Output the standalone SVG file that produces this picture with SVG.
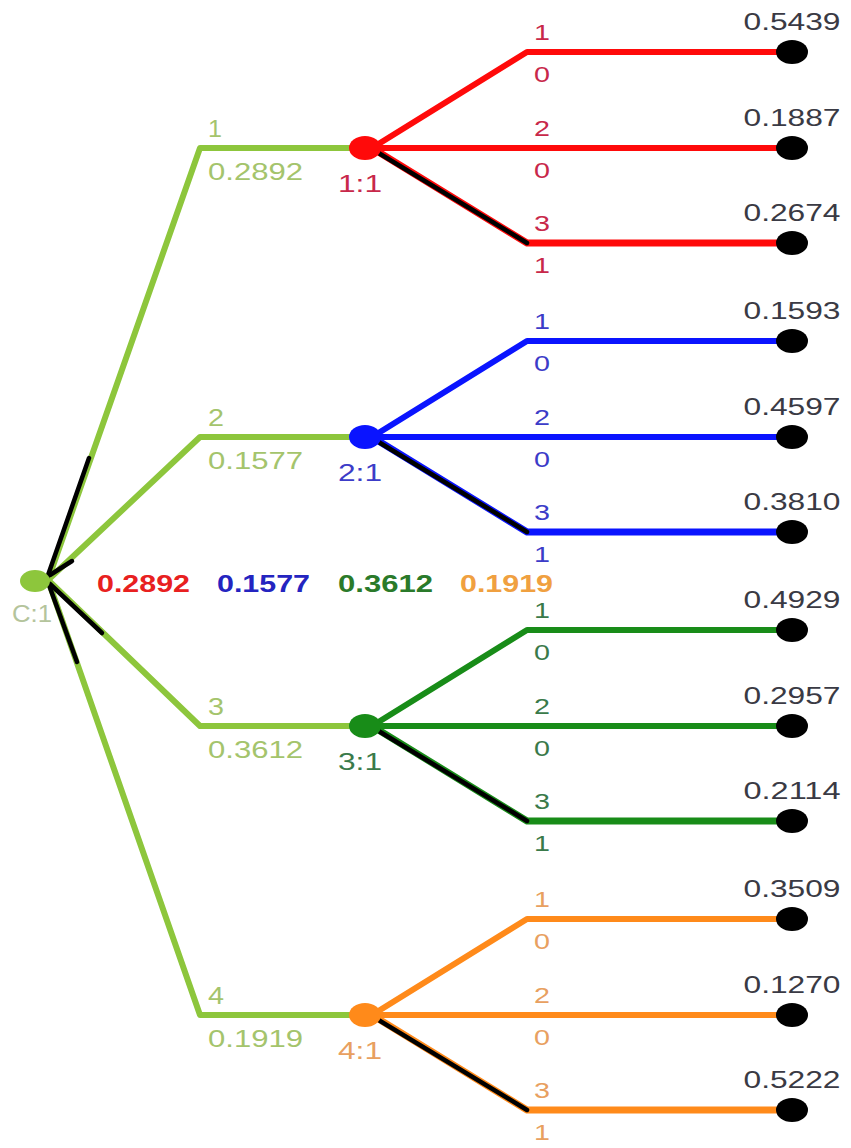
<svg xmlns="http://www.w3.org/2000/svg" width="851" height="1148" viewBox="0 0 851 1148">
<style>
text{font-family:"Liberation Sans",Arial,sans-serif;}
.lbl{font-size:23px;}
.sm{font-size:22px;text-anchor:middle;}
.val{font-size:23px;text-anchor:middle;fill:#3a3a44;}
.nl{font-size:23px;text-anchor:middle;}
.ctr{font-size:23px;font-weight:bold;}
.ln{fill:none;stroke-width:6;stroke-linejoin:round;stroke-linecap:butt;}
.blk{fill:none;stroke:#000;stroke-width:4.5;stroke-linecap:round;}
.lg{stroke:#8dc63c;}
.r{stroke:#ff0a0a;}
.b{stroke:#0a14ff;}
.g{stroke:#188c18;}
.o{stroke:#ff8a1a;}
.term{fill:#000;}
</style>
<rect width="851" height="1148" fill="#fff"/>
<g id="root-label"><text class="lbl" x="12" y="622" fill="#b4c49c" textLength="40" lengthAdjust="spacingAndGlyphs">C:1</text></g>
<g id="connectors">
<path class="ln lg" d="M48 580 L200 148 L355 148"/>
<path class="ln lg" d="M48 580 L200 437 L355 437"/>
<path class="ln lg" d="M48 580 L200 726 L355 726"/>
<path class="ln lg" d="M48 580 L200 1015 L355 1015"/>
<path class="blk" d="M47 578 L89 458"/>
<path class="blk" d="M50 575 L72 561"/>
<path class="blk" d="M50 584 L102 633"/>
<path class="blk" d="M49 585 L77 662"/>
<path class="ln r" d="M372 148 L527 52 L790 52"/>
<path class="ln r" d="M372 148 L790 148"/>
<path class="ln r" d="M372 148 L527 243 L790 243" style="stroke-width:7"/>
<path class="blk" d="M372 149 L527 243"/>
<path class="ln b" d="M372 437 L527 341 L790 341"/>
<path class="ln b" d="M372 437 L790 437"/>
<path class="ln b" d="M372 437 L527 532 L790 532" style="stroke-width:7"/>
<path class="blk" d="M372 438 L527 532"/>
<path class="ln g" d="M372 726 L527 630 L790 630"/>
<path class="ln g" d="M372 726 L790 726"/>
<path class="ln g" d="M372 726 L527 821 L790 821" style="stroke-width:7"/>
<path class="blk" d="M372 727 L527 821"/>
<path class="ln o" d="M372 1015 L527 919 L790 919"/>
<path class="ln o" d="M372 1015 L790 1015"/>
<path class="ln o" d="M372 1015 L527 1110 L790 1110" style="stroke-width:7"/>
<path class="blk" d="M372 1016 L527 1110"/>
</g>
<g id="edge-labels-root" fill="#a4c46c">
<text class="lbl" x="208" y="137" textLength="14" lengthAdjust="spacingAndGlyphs">1</text>
<text class="lbl" x="208" y="180" textLength="95" lengthAdjust="spacingAndGlyphs">0.2892</text>
<text class="lbl" x="208" y="426" textLength="16" lengthAdjust="spacingAndGlyphs">2</text>
<text class="lbl" x="208" y="469" textLength="95" lengthAdjust="spacingAndGlyphs">0.1577</text>
<text class="lbl" x="208" y="715" textLength="16" lengthAdjust="spacingAndGlyphs">3</text>
<text class="lbl" x="208" y="758" textLength="95" lengthAdjust="spacingAndGlyphs">0.3612</text>
<text class="lbl" x="208" y="1004" textLength="16" lengthAdjust="spacingAndGlyphs">4</text>
<text class="lbl" x="208" y="1047" textLength="95" lengthAdjust="spacingAndGlyphs">0.1919</text>
</g>
<g id="summary">
<text class="ctr" x="97" y="592" fill="#e82020" textLength="93" lengthAdjust="spacingAndGlyphs">0.2892</text>
<text class="ctr" x="217" y="592" fill="#2424c0" textLength="93" lengthAdjust="spacingAndGlyphs">0.1577</text>
<text class="ctr" x="338" y="592" fill="#2a7a2a" textLength="95" lengthAdjust="spacingAndGlyphs">0.3612</text>
<text class="ctr" x="460" y="592" fill="#f0a040" textLength="93" lengthAdjust="spacingAndGlyphs">0.1919</text>
</g>
<g id="node-C"><ellipse cx="35" cy="581" rx="15" ry="11" fill="#8dc63c"/></g>
<g id="node-1" fill="#c8284a">
<ellipse cx="365" cy="148" rx="16" ry="12" fill="#ff0a0a"/>
<text class="nl" x="360" y="192" textLength="44" lengthAdjust="spacingAndGlyphs">1:1</text>
<text class="sm" x="542" y="40" textLength="16" lengthAdjust="spacingAndGlyphs">1</text><text class="sm" x="542" y="82" textLength="16" lengthAdjust="spacingAndGlyphs">0</text>
<text class="sm" x="542" y="136" textLength="16" lengthAdjust="spacingAndGlyphs">2</text><text class="sm" x="542" y="178" textLength="16" lengthAdjust="spacingAndGlyphs">0</text>
<text class="sm" x="542" y="231" textLength="16" lengthAdjust="spacingAndGlyphs">3</text><text class="sm" x="542" y="273" textLength="16" lengthAdjust="spacingAndGlyphs">1</text>
</g>
<g id="node-2" fill="#3c3cc8">
<ellipse cx="365" cy="437" rx="16" ry="12" fill="#0a14ff"/>
<text class="nl" x="360" y="481" textLength="44" lengthAdjust="spacingAndGlyphs">2:1</text>
<text class="sm" x="542" y="329" textLength="16" lengthAdjust="spacingAndGlyphs">1</text><text class="sm" x="542" y="371" textLength="16" lengthAdjust="spacingAndGlyphs">0</text>
<text class="sm" x="542" y="425" textLength="16" lengthAdjust="spacingAndGlyphs">2</text><text class="sm" x="542" y="467" textLength="16" lengthAdjust="spacingAndGlyphs">0</text>
<text class="sm" x="542" y="520" textLength="16" lengthAdjust="spacingAndGlyphs">3</text><text class="sm" x="542" y="562" textLength="16" lengthAdjust="spacingAndGlyphs">1</text>
</g>
<g id="node-3" fill="#3a7a4a">
<ellipse cx="365" cy="726" rx="16" ry="12" fill="#188c18"/>
<text class="nl" x="360" y="770" textLength="44" lengthAdjust="spacingAndGlyphs">3:1</text>
<text class="sm" x="542" y="618" textLength="16" lengthAdjust="spacingAndGlyphs">1</text><text class="sm" x="542" y="660" textLength="16" lengthAdjust="spacingAndGlyphs">0</text>
<text class="sm" x="542" y="714" textLength="16" lengthAdjust="spacingAndGlyphs">2</text><text class="sm" x="542" y="756" textLength="16" lengthAdjust="spacingAndGlyphs">0</text>
<text class="sm" x="542" y="809" textLength="16" lengthAdjust="spacingAndGlyphs">3</text><text class="sm" x="542" y="851" textLength="16" lengthAdjust="spacingAndGlyphs">1</text>
</g>
<g id="node-4" fill="#e8a060">
<ellipse cx="365" cy="1015" rx="16" ry="12" fill="#ff8a1a"/>
<text class="nl" x="360" y="1059" textLength="44" lengthAdjust="spacingAndGlyphs">4:1</text>
<text class="sm" x="542" y="907" textLength="16" lengthAdjust="spacingAndGlyphs">1</text><text class="sm" x="542" y="949" textLength="16" lengthAdjust="spacingAndGlyphs">0</text>
<text class="sm" x="542" y="1003" textLength="16" lengthAdjust="spacingAndGlyphs">2</text><text class="sm" x="542" y="1045" textLength="16" lengthAdjust="spacingAndGlyphs">0</text>
<text class="sm" x="542" y="1098" textLength="16" lengthAdjust="spacingAndGlyphs">3</text><text class="sm" x="542" y="1140" textLength="16" lengthAdjust="spacingAndGlyphs">1</text>
</g>
<g id="terminals">
<g id="t1-1"><ellipse class="term" cx="792" cy="52" rx="16" ry="12"/><text class="val" x="792" y="30" textLength="97" lengthAdjust="spacingAndGlyphs">0.5439</text></g>
<g id="t1-2"><ellipse class="term" cx="792" cy="148" rx="16" ry="12"/><text class="val" x="792" y="126" textLength="97" lengthAdjust="spacingAndGlyphs">0.1887</text></g>
<g id="t1-3"><ellipse class="term" cx="792" cy="243" rx="16" ry="12"/><text class="val" x="792" y="221" textLength="97" lengthAdjust="spacingAndGlyphs">0.2674</text></g>
<g id="t2-1"><ellipse class="term" cx="792" cy="341" rx="16" ry="12"/><text class="val" x="792" y="319" textLength="97" lengthAdjust="spacingAndGlyphs">0.1593</text></g>
<g id="t2-2"><ellipse class="term" cx="792" cy="437" rx="16" ry="12"/><text class="val" x="792" y="415" textLength="97" lengthAdjust="spacingAndGlyphs">0.4597</text></g>
<g id="t2-3"><ellipse class="term" cx="792" cy="532" rx="16" ry="12"/><text class="val" x="792" y="510" textLength="97" lengthAdjust="spacingAndGlyphs">0.3810</text></g>
<g id="t3-1"><ellipse class="term" cx="792" cy="630" rx="16" ry="12"/><text class="val" x="792" y="608" textLength="97" lengthAdjust="spacingAndGlyphs">0.4929</text></g>
<g id="t3-2"><ellipse class="term" cx="792" cy="726" rx="16" ry="12"/><text class="val" x="792" y="704" textLength="97" lengthAdjust="spacingAndGlyphs">0.2957</text></g>
<g id="t3-3"><ellipse class="term" cx="792" cy="821" rx="16" ry="12"/><text class="val" x="792" y="799" textLength="97" lengthAdjust="spacingAndGlyphs">0.2114</text></g>
<g id="t4-1"><ellipse class="term" cx="792" cy="919" rx="16" ry="12"/><text class="val" x="792" y="897" textLength="97" lengthAdjust="spacingAndGlyphs">0.3509</text></g>
<g id="t4-2"><ellipse class="term" cx="792" cy="1015" rx="16" ry="12"/><text class="val" x="792" y="993" textLength="97" lengthAdjust="spacingAndGlyphs">0.1270</text></g>
<g id="t4-3"><ellipse class="term" cx="792" cy="1110" rx="16" ry="12"/><text class="val" x="792" y="1088" textLength="97" lengthAdjust="spacingAndGlyphs">0.5222</text></g>
</g>
</svg>
